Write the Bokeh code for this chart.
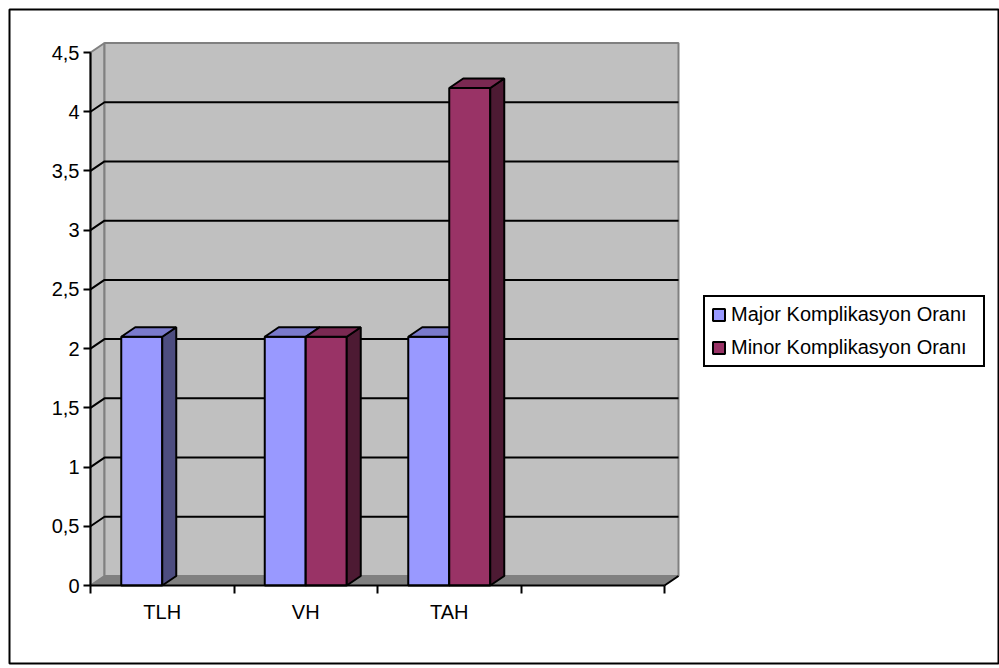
from bokeh.plotting import figure
from bokeh.models import Range1d, FixedTicker, Legend, LegendItem
from bokeh.embed import file_html
from bokeh.resources import INLINE

# ---- data ----
categories = ["TLH", "VH", "TAH", ""]
major = [2.1, 2.1, 2.1, 0]
minor = [0, 2.1, 4.2, 0]
series_names = ["Major Komplikasyon Oranı", "Minor Komplikasyon Oranı"]
y_ticks = [0, 0.5, 1, 1.5, 2, 2.5, 3, 3.5, 4, 4.5]
y_tick_labels = ["0", "0,5", "1", "1,5", "2", "2,5", "3", "3,5", "4", "4,5"]

# ---- styles ----
FONT = "Liberation Sans"
front_colors = ["#9999ff", "#993366"]
side_colors = ["#4d4d80", "#4d1a33"]
top_colors = ["#7a7acc", "#7a2952"]

# ---- geometry (frame = the outer chart border) ----
n = len(categories)
FRAME_L, FRAME_T, FRAME_R, FRAME_B = 9, 9, 999, 663
FRAME_W = FRAME_R - FRAME_L
FRAME_H = FRAME_B - FRAME_T
PX_X = 143.5                 # pixels per category
PX_Y = 533 / 4.5             # pixels per value unit
ORIGIN_X = 90 - FRAME_L      # value-axis position inside the frame
ORIGIN_Y = FRAME_B - 585     # category-axis position above frame bottom
x0 = -ORIGIN_X / PX_X
y0 = -ORIGIN_Y / PX_Y
DX = 14 / PX_X               # 3D depth in x units
DY = 9.5 / PX_Y              # 3D depth in y units
BW = 1 / 3.5                 # bar width (gap width 150%)
Y_MAX = y_ticks[-1]

p = figure(width=999, height=668,
           x_range=Range1d(x0, x0 + FRAME_W / PX_X),
           y_range=Range1d(y0, y0 + FRAME_H / PX_Y),
           output_backend="svg", toolbar_location=None,
           min_border_left=FRAME_L, min_border_right=999 - FRAME_R,
           min_border_top=FRAME_T, min_border_bottom=668 - FRAME_B)
p.outline_line_color = "black"
p.outline_line_width = 2
p.outline_line_alpha = 1
p.grid.visible = False
p.background_fill_color = "white"
p.border_fill_color = "white"

# walls and floor
p.patch([0, 0, DX, DX], [0, Y_MAX, Y_MAX + DY, DY],
        fill_color="#c0c0c0", line_color="#808080", line_width=2)
p.quad(left=DX, right=n + DX, bottom=DY, top=Y_MAX + DY,
       fill_color="#c0c0c0", line_color="#808080", line_width=2)
p.patch([0, DX, n + DX, n], [0, DY, DY, 0],
        fill_color="#808080", line_color="#808080", line_width=1)
p.line([n, n + DX], [0, DY], line_color="black", line_width=2)

# gridlines (side wall diagonal + back wall)
gx, gy = [], []
for v in y_ticks[1:-1]:
    gx.append([0, DX, n + DX])
    gy.append([v, v + DY, v + DY])
p.multi_line(gx, gy, line_color="black", line_width=2)

# bars
renderers = []
for s, vals in enumerate([major, minor]):
    L, R, T = [], [], []
    sx, sy, tx, ty = [], [], [], []
    for i, v in enumerate(vals):
        if v <= 0:
            continue
        left = i + 0.5 - BW + s * BW
        right = left + BW
        L.append(left); R.append(right); T.append(v)
        sx.append([right, right + DX, right + DX, right])
        sy.append([0, DY, v + DY, v])
        tx.append([left, right, right + DX, left + DX])
        ty.append([v, v, v + DY, v + DY])
    r = p.quad(left=L, right=R, bottom=0, top=T,
               fill_color=front_colors[s], line_color="black", line_width=2)
    p.patches(sx, sy, fill_color=side_colors[s], line_color="black", line_width=2)
    p.patches(tx, ty, fill_color=top_colors[s], line_color="black", line_width=2)
    renderers.append(r)

# y axis (drawn at x = 0 inside the frame)
ya = p.yaxis[0]
ya.fixed_location = 0
ya.ticker = FixedTicker(ticks=y_ticks)
ya.major_label_overrides = {t: lab for t, lab in zip(y_ticks, y_tick_labels)}
ya.bounds = (0, Y_MAX)
ya.axis_line_width = 2
ya.axis_line_color = "black"
ya.major_tick_out = 7
ya.major_tick_in = 0
ya.major_tick_line_width = 2
ya.major_tick_line_color = "black"
ya.minor_tick_out = 0
ya.minor_tick_in = 0
ya.major_label_standoff = 4
ya.major_label_text_font = FONT
ya.major_label_text_font_size = "20px"
ya.major_label_text_color = "black"

# x axis (drawn at y = 0 inside the frame)
xa = p.xaxis[0]
xa.fixed_location = 0
xa.ticker = FixedTicker(ticks=[i + 0.5 for i in range(n)],
                        minor_ticks=list(range(n + 1)))
xa.major_label_overrides = {i + 0.5: c for i, c in enumerate(categories)}
xa.bounds = (0, n)
xa.axis_line_width = 2
xa.axis_line_color = "black"
xa.major_tick_out = 0
xa.major_tick_in = 0
xa.minor_tick_out = 8
xa.minor_tick_in = 0
xa.minor_tick_line_width = 2
xa.minor_tick_line_color = "black"
xa.major_label_standoff = 7
xa.major_label_text_font = FONT
xa.major_label_text_font_size = "20px"
xa.major_label_text_color = "black"

# legend (inside the frame, right of the plot)
legend = Legend(items=[LegendItem(label=series_names[k], renderers=[renderers[k]])
                       for k in range(2)],
                location=(703 - FRAME_L, FRAME_B - 367), orientation="vertical",
                glyph_width=15, glyph_height=15, label_height=20, label_width=246,
                spacing=10, padding=6, label_standoff=5, margin=0,
                label_text_font=FONT, label_text_font_size="20px",
                label_text_color="black",
                border_line_color="black", border_line_width=2,
                border_line_alpha=1,
                background_fill_color="white", background_fill_alpha=1)
p.add_layout(legend)

open("out.html", "w").write(file_html(p, INLINE))
